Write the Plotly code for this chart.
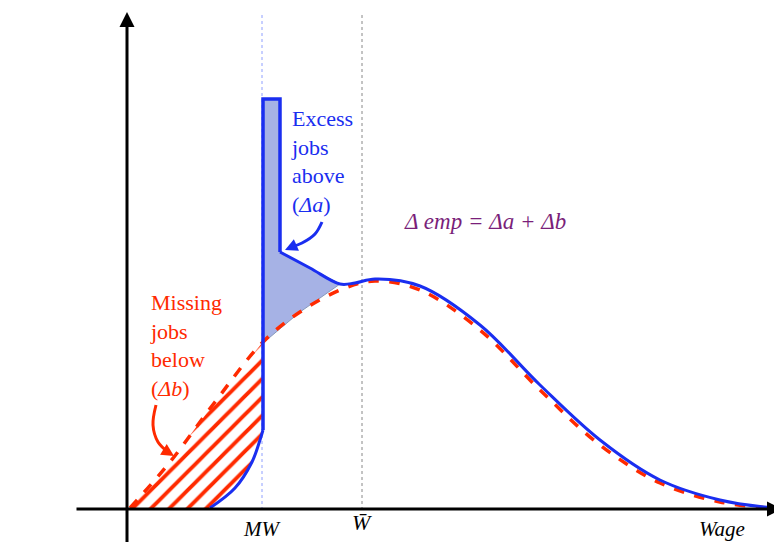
import plotly.graph_objects as go

# Counterfactual (dashed red) wage distribution, pixel-like coordinates
cf_x = [130, 170, 215, 262, 300, 345, 375, 420, 480, 540, 600, 660, 720, 770]
cf_y = [508, 462, 402, 343, 312, 288, 281, 290, 330, 390, 445, 483, 502, 508]
# Actual (blue) distribution
act_lo_x = [210, 235, 252, 260, 263]
act_lo_y = [508, 488, 462, 440, 430]
act_hi_x = [263, 263, 280, 280, 310, 340, 355, 375, 420, 480, 540, 600, 660, 720, 772]
act_hi_y = [430, 99, 99, 252, 268, 284, 283, 279, 286, 325, 385, 440, 480, 500, 508]

FONT = "Liberation Serif"
fig = go.Figure()

hx = cf_x[:4] + [263, 263] + act_lo_x[::-1][1:]
hy = cf_y[:4] + [343, 430] + act_lo_y[::-1][1:]
fig.add_trace(go.Scatter(x=hx, y=hy, fill="toself", mode="none",
    fillcolor="white",
    fillpattern=dict(shape="/", fgcolor="#ff2a00", fgopacity=1, bgcolor="white", size=13, solidity=0.3)))
ex = [263, 263, 280, 280, 310, 340, 300, 263]
ey = [343, 99, 99, 252, 268, 284, 312, 343]
fig.add_trace(go.Scatter(x=ex, y=ey, fill="toself", mode="lines",
    line=dict(color="#8899bb", width=1), fillcolor="rgba(150,165,225,0.85)"))

fig.add_trace(go.Scatter(x=[262, 262], y=[15, 509], mode="lines", line=dict(color="#8fa0ff", width=1, dash="dot")))
fig.add_trace(go.Scatter(x=[362, 362], y=[15, 509], mode="lines", line=dict(color="#888888", width=1, dash="dot")))

fig.add_trace(go.Scatter(x=cf_x, y=cf_y, mode="lines", line=dict(color="#ff2a00", width=3.5, dash="dash", shape="spline")))
fig.add_trace(go.Scatter(x=act_lo_x, y=act_lo_y, mode="lines", line=dict(color="#1a2ef0", width=3, shape="spline")))
fig.add_trace(go.Scatter(x=act_hi_x[:4], y=act_hi_y[:4], mode="lines", line=dict(color="#1a2ef0", width=3.5)))
fig.add_trace(go.Scatter(x=act_hi_x[3:], y=act_hi_y[3:], mode="lines", line=dict(color="#1a2ef0", width=3, shape="spline")))

fig.add_trace(go.Scatter(x=[322, 315, 302, 291], y=[222, 234, 243, 247], mode="lines", line=dict(color="#1a2ef0", width=3, shape="spline")))
fig.add_trace(go.Scatter(x=[156, 153, 158, 168], y=[405, 425, 442, 452], mode="lines", line=dict(color="#ff2a00", width=3, shape="spline")))

anns = [
    dict(x=285, y=250, ax=294, ay=246, color="#1a2ef0"),
    dict(x=174, y=456, ax=166, ay=451, color="#ff2a00"),
    dict(x=127, y=12, ax=127, ay=545, color="black"),
    dict(x=782, y=509, ax=75, ay=509, color="black"),
]
annotations = []
for a in anns:
    annotations.append(dict(x=a["x"], y=a["y"], ax=a["ax"], ay=a["ay"], xref="x", yref="y",
        axref="x", ayref="y", showarrow=True, arrowhead=2, arrowsize=1, arrowwidth=3 if a["color"] == "black" else 2.5,
        arrowcolor=a["color"], text=""))

def txt(x, y, s, color="black", size=20, italic=False, xanchor="left"):
    annotations.append(dict(x=x, y=y, xref="x", yref="y", text=s, showarrow=False, xanchor=xanchor,
        yanchor="top", align="left",
        font=dict(family=FONT, size=size, color=color, style="italic" if italic else "normal")))

txt(6, 36, "Number of<br>Workers", italic=True, size=22)
txt(289, 104, "Excess<br>jobs<br>above<br>(<i>Δa</i>)", color="#1a2ef0", size=22)
txt(148, 288, "Missing<br>jobs<br>below<br>(<i>Δb</i>)", color="#ff2a00", size=22)
txt(402, 207, "Δ emp = Δa + Δb", color="#7a1f7a", size=23, italic=True)
txt(262, 515, "MW", italic=True, size=21, xanchor="center")
txt(362, 508, "W̄", italic=True, size=22, xanchor="center")
txt(722, 515, "Wage", italic=True, size=21, xanchor="center")

fig.update_layout(width=782, height=542, margin=dict(l=0, r=0, t=0, b=0),
    plot_bgcolor="white", paper_bgcolor="white", showlegend=False, annotations=annotations,
    xaxis=dict(range=[8, 790], visible=False, fixedrange=True),
    yaxis=dict(range=[550, 8], visible=False, fixedrange=True))
fig.write_html("out.html")
